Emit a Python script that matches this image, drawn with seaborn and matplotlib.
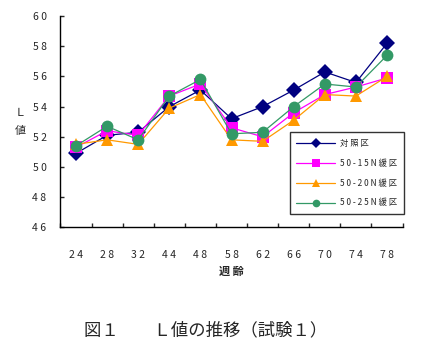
import pandas as pd
import numpy as np
import matplotlib
matplotlib.use("Agg")
import matplotlib.pyplot as plt
import seaborn as sns

weeks = ["24", "28", "32", "44", "48", "58", "62", "66", "70", "74", "78"]
groups = ["対照区", "50-15N緩区", "50-20N緩区", "50-25N緩区"]
control = [50.9, 52.1, 52.3, 54.0, 55.1, 53.2, 54.0, 55.1, 56.3, 55.6, 58.2]
n15 = [51.3, 52.4, 52.1, 54.7, 55.5, 52.6, 52.0, 53.6, 54.8, 55.3, 55.9]
n20 = [51.5, 51.8, 51.5, 53.9, 54.8, 51.8, 51.7, 53.1, 54.8, 54.7, 56.0]
n25 = [51.4, 52.7, 51.8, 54.7, 55.8, 52.2, 52.3, 54.0, 55.5, 55.3, 57.4]

df = pd.DataFrame({"週齢": weeks, groups[0]: control, groups[1]: n15,
                   groups[2]: n20, groups[3]: n25})
long = df.melt(id_vars="週齢", var_name="区", value_name="L値")

sns.set_style("white")
plt.rcParams["font.family"] = ["Noto Sans CJK JP", "DejaVu Sans"]

colors = dict(zip(groups, ["#000080", "#ff00ff", "#ff9900", "#339966"]))
marks = dict(zip(groups, ["D", "s", "^", "o"]))

fig = plt.figure(figsize=(4.24, 3.58), dpi=100)
ax = fig.add_axes([0.1425, 0.365, 0.807, 0.59])

sns.lineplot(data=long, x="週齢", y="L値", hue="区", style="区",
             palette=colors, markers=marks, dashes=False, sort=False,
             markersize=8.5, linewidth=0.9, markeredgewidth=0, ax=ax)

ax.set_ylim(46, 60)
ax.set_xlim(-0.5, len(weeks) - 0.5)
ax.set_yticks(np.arange(46, 61, 2))
ax.set_yticklabels([" ".join(str(v)) for v in range(46, 61, 2)], fontsize=7.5)
ax.tick_params(axis="y", direction="in", length=3, width=1, pad=10, left=True)

ax.set_xticks(np.arange(-0.5, len(weeks), 1))
ax.set_xticklabels([])
ax.tick_params(axis="x", which="major", direction="in", length=3, width=1, bottom=True)
ax.set_xticks(np.arange(len(weeks)), minor=True)
ax.set_xticklabels([" ".join(w) for w in weeks], minor=True, fontsize=7.5)
ax.tick_params(axis="x", which="minor", length=0, pad=16)

for s in ["top", "right"]:
    ax.spines[s].set_visible(False)
for s in ["left", "bottom"]:
    ax.spines[s].set_color("black")
    ax.spines[s].set_linewidth(1)

ax.set_xlabel("週 齢", fontsize=8, fontweight="bold", labelpad=4)
ax.set_ylabel("")
fig.text(0.047, 0.66, "Ｌ\n\n値", fontsize=8, ha="center", va="center", linespacing=0.9)

leg = ax.legend(loc="upper left", bbox_to_anchor=(0.67, 0.45), frameon=True,
                fancybox=False, fontsize=6, labelspacing=1.3, handlelength=4.6,
                borderpad=0.8, markerscale=0.65, borderaxespad=0, handletextpad=0.6)
leg.get_frame().set_edgecolor("black")
leg.get_frame().set_linewidth(1)
for t in leg.get_texts():
    t.set_text(" ".join(t.get_text()))

fig.text(0.485, 0.077, "図１　　Ｌ値の推移（試験１）", fontsize=12.5,
         ha="center", va="center")

fig.savefig("out.png", dpi=100)
